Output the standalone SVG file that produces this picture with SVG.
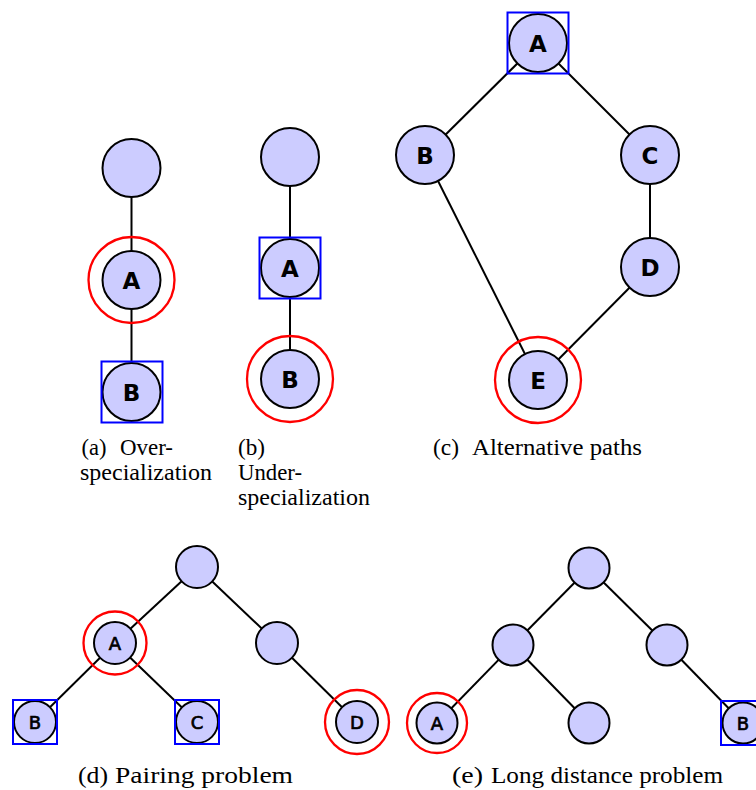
<svg xmlns="http://www.w3.org/2000/svg" width="756" height="790" viewBox="0 0 756 790">
<style>
.n{fill:#ccccff;stroke:#000;stroke-width:2}
.e{stroke:#000;stroke-width:2;fill:none}
.red{fill:none;stroke:#ff0000;stroke-width:2.3}
.blue{fill:none;stroke:#0000ff;stroke-width:2}
.lb{font-family:"DejaVu Sans",sans-serif;font-weight:bold;font-size:23px;text-anchor:middle;fill:#000}
.ls{font-family:"DejaVu Sans",sans-serif;font-size:18px;text-anchor:middle;fill:#000;stroke:#000;stroke-width:0.7}
.cap{font-family:"Liberation Serif","Times New Roman",serif;font-size:24px;fill:#000}
</style>
<rect width="756" height="790" fill="#fff"/>
<g id="connectors">
<line class="e" x1="131.5" y1="168" x2="131.5" y2="280"/>
<line class="e" x1="131.5" y1="280" x2="131.5" y2="392"/>
<line class="e" x1="290" y1="157" x2="290" y2="268"/>
<line class="e" x1="290" y1="268" x2="290" y2="379"/>
<line class="e" x1="538" y1="43" x2="425" y2="155"/>
<line class="e" x1="538" y1="43" x2="650" y2="155"/>
<line class="e" x1="650" y1="155" x2="650" y2="267"/>
<line class="e" x1="425" y1="155" x2="538" y2="380"/>
<line class="e" x1="650" y1="267" x2="538" y2="380"/>
<line class="e" x1="197" y1="567" x2="115" y2="643"/>
<line class="e" x1="197" y1="567" x2="277" y2="643"/>
<line class="e" x1="115" y1="643" x2="35" y2="722"/>
<line class="e" x1="115" y1="643" x2="197" y2="722"/>
<line class="e" x1="277" y1="643" x2="357" y2="722"/>
<line class="e" x1="589" y1="568" x2="513" y2="645"/>
<line class="e" x1="589" y1="568" x2="667" y2="645"/>
<line class="e" x1="513" y1="645" x2="437" y2="723"/>
<line class="e" x1="513" y1="645" x2="589" y2="723"/>
<line class="e" x1="667" y1="645" x2="743" y2="723"/>
</g>
<g id="a-top"><circle class="n" cx="131.5" cy="168" r="29"/></g>
<g id="a-A"><circle class="n" cx="131.5" cy="280" r="29"/><circle class="red" cx="131.5" cy="280" r="43"/><text class="lb" x="131.5" y="288.5">A</text></g>
<g id="a-B"><circle class="n" cx="131.5" cy="392" r="29"/><rect class="blue" x="101.5" y="361.5" width="61" height="61"/><text class="lb" x="131.5" y="400.5">B</text></g>
<g id="b-top"><circle class="n" cx="290" cy="157" r="29"/></g>
<g id="b-A"><circle class="n" cx="290" cy="268" r="29"/><rect class="blue" x="259.5" y="237.5" width="61" height="61"/><text class="lb" x="290" y="276.5">A</text></g>
<g id="b-B"><circle class="n" cx="290" cy="379" r="29"/><circle class="red" cx="290" cy="379" r="43"/><text class="lb" x="290" y="387.5">B</text></g>
<g id="c-A"><circle class="n" cx="538" cy="43" r="29"/><rect class="blue" x="507.5" y="12.5" width="61" height="61"/><text class="lb" x="538" y="51.5">A</text></g>
<g id="c-B"><circle class="n" cx="425" cy="155" r="29"/><text class="lb" x="425" y="163.5">B</text></g>
<g id="c-C"><circle class="n" cx="650" cy="155" r="29"/><text class="lb" x="650" y="163.5">C</text></g>
<g id="c-D"><circle class="n" cx="650" cy="267" r="29"/><text class="lb" x="650" y="275.5">D</text></g>
<g id="c-E"><circle class="n" cx="538" cy="380" r="29"/><circle class="red" cx="538" cy="380" r="43"/><text class="lb" x="538" y="388.5">E</text></g>
<g id="d-root"><circle class="n" cx="197" cy="567" r="21"/></g>
<g id="d-A"><circle class="n" cx="115" cy="643" r="21"/><circle class="red" cx="115" cy="643" r="31.5"/><text class="ls" x="115" y="649.5">A</text></g>
<g id="d-M"><circle class="n" cx="277" cy="643" r="21"/></g>
<g id="d-B"><circle class="n" cx="35" cy="722" r="21"/><rect class="blue" x="13" y="700" width="44" height="44"/><text class="ls" x="35" y="728.5">B</text></g>
<g id="d-C"><circle class="n" cx="197" cy="722" r="21"/><rect class="blue" x="175" y="700" width="44" height="44"/><text class="ls" x="197" y="728.5">C</text></g>
<g id="d-D"><circle class="n" cx="357" cy="722" r="21"/><circle class="red" cx="357" cy="722" r="32"/><text class="ls" x="357" y="728.5">D</text></g>
<g id="e-root"><circle class="n" cx="589" cy="568" r="20.5"/></g>
<g id="e-L"><circle class="n" cx="513" cy="645" r="20.5"/></g>
<g id="e-R"><circle class="n" cx="667" cy="645" r="20.5"/></g>
<g id="e-A"><circle class="n" cx="437" cy="723" r="20.5"/><circle class="red" cx="437" cy="723" r="30"/><text class="ls" x="437" y="729.5">A</text></g>
<g id="e-M"><circle class="n" cx="589" cy="723" r="20.5"/></g>
<g id="e-B"><circle class="n" cx="743" cy="723" r="20.5"/><rect class="blue" x="721" y="701" width="44" height="44"/><text class="ls" x="743" y="729.5">B</text></g>
<g id="captions">
<text class="cap" x="81.5" y="455" textLength="25" lengthAdjust="spacingAndGlyphs">(a)</text>
<text class="cap" x="120" y="455" textLength="53" lengthAdjust="spacingAndGlyphs">Over-</text>
<text class="cap" x="80" y="480" textLength="132" lengthAdjust="spacingAndGlyphs">specialization</text>
<text class="cap" x="238" y="455" textLength="27" lengthAdjust="spacingAndGlyphs">(b)</text>
<text class="cap" x="238" y="480" textLength="64" lengthAdjust="spacingAndGlyphs">Under-</text>
<text class="cap" x="238" y="505" textLength="132" lengthAdjust="spacingAndGlyphs">specialization</text>
<text class="cap" x="433" y="455" textLength="26" lengthAdjust="spacingAndGlyphs">(c)</text>
<text class="cap" x="472" y="455" textLength="170" lengthAdjust="spacingAndGlyphs">Alternative paths</text>
<text class="cap" x="78" y="783" textLength="30" lengthAdjust="spacingAndGlyphs">(d)</text>
<text class="cap" x="115" y="783" textLength="178" lengthAdjust="spacingAndGlyphs">Pairing problem</text>
<text class="cap" x="452" y="783" textLength="31" lengthAdjust="spacingAndGlyphs">(e)</text>
<text class="cap" x="491" y="783" textLength="232" lengthAdjust="spacingAndGlyphs">Long distance problem</text>
</g>
</svg>
